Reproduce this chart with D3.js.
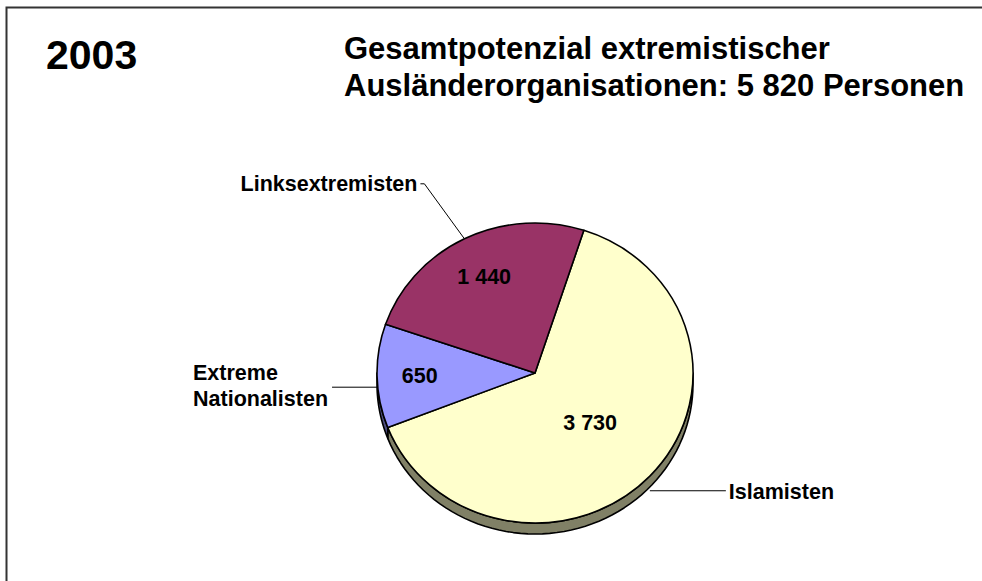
<!DOCTYPE html>
<html>
<head>
<meta charset="utf-8">
<script src="https://cdn.jsdelivr.net/npm/d3@7"></script>
<style>
  body { margin: 0; background: #fff; }
  svg { display: block; font-family: "Liberation Sans", Arial, sans-serif; }
</style>
</head>
<body>
<div id="js_chart"></div>
<script>
// data
const year = "2003";
const titleLines = ["Gesamtpotenzial extremistischer", "Ausländerorganisationen: 5 820 Personen"];
const categories = ["Islamisten", "Extreme Nationalisten", "Linksextremisten"];
const categoryLines = [["Islamisten"], ["Extreme", "Nationalisten"], ["Linksextremisten"]];
const values = [3730, 650, 1440];
const valueLabels = ["3 730", "650", "1 440"];
const topColors = ["#ffffcc", "#9999ff", "#993366"];
const sideColors = ["#808066", "#4d4d80", "#4d1a33"];

// settings
const width = 982, height = 581;
const cx = 535, cy = 373, R = 150, sx = 158 / 150, depth = 11;
const start = 18 * Math.PI / 180;
const labelRadius = [0.48, 0.73, 0.72];

const svg = d3.select("#js_chart").append("svg")
    .attr("width", width)
    .attr("height", height);

// frame
svg.append("path")
    .attr("d", "M6.5," + height + "V7.5H" + width)
    .attr("fill", "none")
    .attr("stroke", "#333")
    .attr("stroke-width", 2);

// titles
svg.append("text")
    .attr("x", 46).attr("y", 69)
    .attr("font-size", 41).attr("font-weight", "bold")
    .text(year);

svg.append("text")
    .attr("font-size", 31).attr("font-weight", "bold")
    .selectAll("tspan")
    .data(titleLines)
    .enter().append("tspan")
        .attr("x", 344)
        .attr("y", (d, i) => 59 + i * 37)
        .text(d => d);

// pie
const pie = d3.pie().sort(null).value(d => d)
    .startAngle(start).endAngle(start + 2 * Math.PI);
const arcs = pie(values);
const arc = d3.arc().innerRadius(0).outerRadius(R);

const g = svg.append("g")
    .attr("transform", "translate(" + cx + "," + cy + ") scale(" + sx + ",1)");

// side walls (only lower half is visible)
const line = d3.line();
arcs.forEach(function (a, i) {
    const lo = Math.max(a.startAngle, Math.PI / 2);
    const hi = Math.min(a.endAngle, 3 * Math.PI / 2);
    if (hi <= lo) return;
    const n = 60;
    const top = d3.range(n + 1).map(k => {
        const t = lo + (hi - lo) * k / n;
        return [R * Math.sin(t), -R * Math.cos(t)];
    });
    const bottom = top.slice().reverse().map(p => [p[0], p[1] + depth]);
    g.append("path")
        .attr("d", line(top.concat(bottom)) + "Z")
        .attr("fill", sideColors[i])
        .attr("stroke", "#000")
        .attr("stroke-width", 1.6)
        .attr("stroke-linejoin", "round")
        .attr("vector-effect", "non-scaling-stroke");
});

// top face
g.selectAll("path.slice")
    .data(arcs)
    .enter().append("path")
        .attr("class", "slice")
        .attr("d", arc)
        .attr("fill", (d, i) => topColors[i])
        .attr("stroke", "#000")
        .attr("stroke-width", 1.6)
        .attr("stroke-linejoin", "round")
        .attr("vector-effect", "non-scaling-stroke");

// value labels
function ellipsePoint(angle, r) {
    return [cx + sx * r * Math.sin(angle), cy - r * Math.cos(angle)];
}

arcs.forEach(function (a, i) {
    const mid = (a.startAngle + a.endAngle) / 2;
    const p = ellipsePoint(mid, R * labelRadius[i]);
    svg.append("text")
        .attr("x", p[0]).attr("y", p[1])
        .attr("dy", "0.35em")
        .attr("text-anchor", "middle")
        .attr("font-size", 21.5).attr("font-weight", "bold")
        .text(valueLabels[i]);
});

// category labels with leader lines
const lead = svg.append("g")
    .attr("fill", "none")
    .attr("stroke", "#000")
    .attr("stroke-width", 1);

arcs.forEach(function (a, i) {
    const mid = (a.startAngle + a.endAngle) / 2;
    const p = ellipsePoint(mid, R);
    if (Math.cos(mid) < 0.05) p[1] += depth * (1 - 0.5 * Math.cos(mid));

    if (Math.sin(mid) > 0) {
        // right side: straight line then text
        const ex = p[0] + 76;
        lead.append("path").attr("d", line([p, [ex, p[1]]]));
        svg.append("text")
            .attr("x", ex + 3).attr("y", p[1] + 8)
            .attr("font-size", 21.5).attr("font-weight", "bold")
            .text(categoryLines[i][0]);
    } else if (Math.cos(mid) > 0.5) {
        // top left: diagonal with short tick
        const elbow = [p[0] - 40, p[1] - 55];
        const ex = elbow[0] - 4;
        lead.append("path").attr("d", line([p, elbow, [ex, elbow[1]]]));
        svg.append("text")
            .attr("x", ex - 3).attr("y", elbow[1] + 7)
            .attr("text-anchor", "end")
            .attr("font-size", 21.5).attr("font-weight", "bold")
            .text(categoryLines[i][0]);
    } else {
        // left: horizontal line, left-aligned block of lines
        const ex = p[0] - 45;
        lead.append("path").attr("d", line([p, [ex, p[1]]]));
        const t = svg.append("text")
            .attr("font-size", 21.5).attr("font-weight", "bold");
        const spans = t.selectAll("tspan")
            .data(categoryLines[i])
            .enter().append("tspan")
                .attr("y", (d, k) => p[1] - 7 + k * 26)
                .text(d => d);
        let w = 0;
        spans.each(function () { w = Math.max(w, this.getComputedTextLength()); });
        spans.attr("x", ex - 4 - w);
    }
});
</script>
</body>
</html>
